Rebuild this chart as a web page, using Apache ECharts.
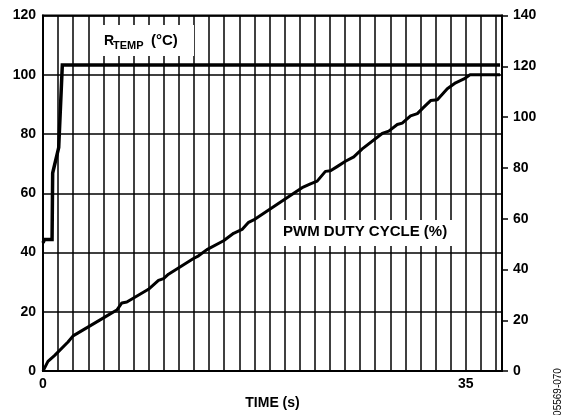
<!DOCTYPE html>
<html>
<head>
<meta charset="utf-8">
<script src="https://cdn.jsdelivr.net/npm/echarts@6/dist/echarts.min.js"></script>
<style>
  html, body { margin: 0; padding: 0; background: #fff; }
  #chart { width: 565px; height: 415px; }
</style>
</head>
<body>
<div id="chart"></div>
<script>
// PWM duty cycle (%) against time (s), left axis
const pwmTime = [0, 0.41, 0.97, 2.07, 2.49, 4.73, 5.39, 6.11, 6.53, 6.94, 8.73, 9.56, 9.98, 10.39,
  12.46, 12.88, 13.57, 14.95, 15.78, 16.48, 17.02, 17.44, 21.04, 21.45, 22.14, 22.70, 23.38, 23.80,
  24.35, 25.04, 25.73, 26.43, 28.08, 28.63, 29.33, 29.74, 30.43, 30.99, 31.53, 32.09, 32.65, 33.47,
  34.16, 34.85, 35.35, 37.84];
const pwmDuty = [0, 3.3, 5.3, 9.8, 11.9, 17.3, 18.9, 20.6, 23.0, 23.3, 27.6, 30.6, 31.2, 32.7,
  38.0, 38.9, 41.0, 44.0, 46.5, 47.8, 50.2, 51.0, 60.8, 61.9, 63.2, 64.1, 67.4, 67.6,
  69.0, 70.8, 72.3, 75.0, 80.2, 81.0, 83.2, 83.7, 86.1, 86.9, 89.1, 91.3, 91.6, 95.3,
  97.3, 98.6, 100, 100];

// RTEMP (°C) against time (s), right axis
const tempTime = [0, 0.12, 0.75, 0.8, 1.3, 1.6, 37.84];
const tempValue = [50.5, 51.8, 51.8, 78, 88, 120.5, 120.5];

// Axis settings
const timeMax = 38;
const timeStep = 1.25;
const timeLabels = [0, 35];
const leftTicks = { min: 0, max: 120, step: 20 };
const rightTicks = { min: 0, max: 140, step: 20 };

const pairs = (xs, ys) => xs.map((x, i) => [x, ys[i]]);
const FONT = '"Liberation Sans", Arial, Helvetica, sans-serif';
const labelStyle = { color: '#000', fontFamily: FONT, fontWeight: 'bold', fontSize: 14 };

const chart = echarts.init(document.getElementById('chart'), null, { renderer: 'canvas' });

chart.setOption({
  animation: false,
  backgroundColor: '#fff',
  grid: {
    left: 43, right: 63, top: 15.5, bottom: 32,
    show: true, borderColor: '#000', borderWidth: 2, backgroundColor: 'transparent'
  },
  xAxis: {
    type: 'value',
    min: 0, max: timeMax, interval: timeStep,
    name: 'TIME (s)', nameLocation: 'middle', nameGap: 21,
    nameTextStyle: labelStyle,
    axisLine: { show: true, lineStyle: { color: '#000', width: 2 } },
    axisTick: { show: false },
    splitLine: { show: true, lineStyle: { color: '#000', width: 1.5 } },
    axisLabel: Object.assign({
      margin: 6,
      showMinLabel: true, showMaxLabel: true,
      formatter: v => (timeLabels.includes(v) ? String(v) : '')
    }, labelStyle)
  },
  yAxis: [
    {
      type: 'value', position: 'left',
      min: leftTicks.min, max: leftTicks.max, interval: leftTicks.step,
      axisLine: { show: true, lineStyle: { color: '#000', width: 2 } },
      axisTick: { show: false },
      splitLine: { show: true, lineStyle: { color: '#000', width: 1.5 } },
      axisLabel: Object.assign({ margin: 7 }, labelStyle)
    },
    {
      type: 'value', position: 'right',
      min: rightTicks.min, max: rightTicks.max, interval: rightTicks.step,
      axisLine: { show: true, lineStyle: { color: '#000', width: 2 } },
      axisTick: { show: true, inside: false, length: 6, lineStyle: { color: '#000', width: 1.5 } },
      splitLine: { show: false },
      axisLabel: Object.assign({ margin: 11 }, labelStyle)
    }
  ],
  series: [
    {
      name: 'PWM DUTY CYCLE (%)',
      type: 'line', yAxisIndex: 0,
      data: pairs(pwmTime, pwmDuty),
      showSymbol: false, smooth: false,
      lineStyle: { color: '#000', width: 3, join: 'round' },
      z: 5
    },
    {
      name: 'RTEMP (°C)',
      type: 'line', yAxisIndex: 1,
      data: pairs(tempTime, tempValue),
      showSymbol: false, smooth: false,
      lineStyle: { color: '#000', width: 3.5, join: 'miter' },
      z: 5
    }
  ],
  graphic: [
    // RTEMP caption on a white panel
    { type: 'rect', z: 20, shape: { x: 99, y: 25, width: 95, height: 31 }, style: { fill: '#fff' } },
    { type: 'text', z: 21, x: 104, y: 41, style: { text: 'R', font: 'bold 14px ' + FONT, fill: '#000', verticalAlign: 'middle' } },
    { type: 'text', z: 21, x: 113, y: 45.5, style: { text: 'TEMP', font: 'bold 11px ' + FONT, fill: '#000', verticalAlign: 'middle' } },
    { type: 'text', z: 21, x: 151, y: 41, style: { text: '(°C)', font: 'bold 15px ' + FONT, fill: '#000', verticalAlign: 'middle' } },
    // PWM caption on a white panel
    { type: 'rect', z: 20, shape: { x: 278, y: 220, width: 180, height: 26 }, style: { fill: '#fff' } },
    { type: 'text', z: 21, x: 283, y: 232, style: { text: 'PWM DUTY CYCLE (%)', font: 'bold 15px ' + FONT, fill: '#000', verticalAlign: 'middle' } },
    // figure number along the right edge
    { type: 'text', z: 21, x: 558, y: 392, rotation: Math.PI / 2,
      style: { text: '05569-070', font: '10px ' + FONT, fill: '#000', align: 'center', verticalAlign: 'middle' } }
  ]
});
</script>
</body>
</html>
